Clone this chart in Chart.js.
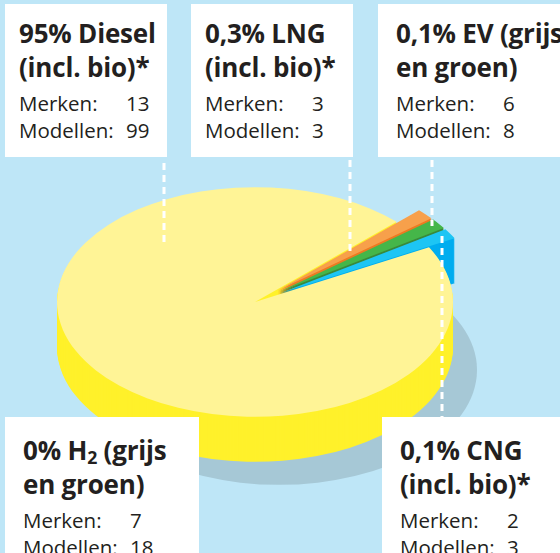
<!DOCTYPE html>
<html><head><meta charset="utf-8">
<script src="https://cdn.jsdelivr.net/npm/chart.js@4/dist/chart.umd.min.js"></script>
<style>
html,body{margin:0;padding:0;background:#bee6f7;}
#wrap{position:relative;width:560px;height:553px;overflow:hidden;background:#bee6f7;font-family:"Open Sans",sans-serif;color:#231f20;}
#c{position:absolute;left:0;top:0;}
.box{position:absolute;background:#fff;box-sizing:border-box;white-space:nowrap;}
.t{font-weight:700;font-size:26px;line-height:34px;letter-spacing:-0.2px;}
.rows{margin-top:6px;font-size:20.5px;line-height:27px;}
.lab{display:inline-block;width:107px;}
sub{font-size:0.68em;vertical-align:-0.2em;line-height:0;}
</style></head><body>
<div id="wrap"><canvas id="c" width="560" height="553"></canvas></div>
<script>
// ---- data ----
const fuels = ['Diesel', 'LNG', 'EV', 'CNG', 'H2'];
const sharePercent = [95, 0.3, 0.1, 0.1, 0];          // percentages printed in the callouts
const drawnShare = [95.6, 1.5, 1.45, 1.45, 0];         // slice sizes as drawn in the graphic
const merken = [13, 3, 6, 2, 7];
const modellen = [99, 3, 8, 3, 18];
const titleA = ['Diesel', 'LNG', 'EV (grijs', 'CNG', 'H<sub>2</sub> (grijs'];
const titleB = ['(incl. bio)*', '(incl. bio)*', 'en groen)', '(incl. bio)*', 'en groen)'];

// ---- styles ----
const topColors = ['#fff496', '#f7a04b', '#45b649', '#1dc5f4', '#ffffff'];
const sideColors = ['#fff12b', '#ee7a22', '#3a8a3b', '#00adef', '#ffffff'];
const explode = [0, 30, 30, 30, 30];

const boxLayout = [
  {left:5, top:4, width:162, height:153, padL:14, padT:12},
  {left:191, top:4, width:162, height:153, padL:14, padT:12},
  {left:378, top:4, width:200, height:153, padL:18, padT:12},
  {left:382, top:417, width:200, height:160, padL:18, padT:16},
  {left:5, top:417, width:194, height:160, padL:18, padT:16}
];
const leaders = [
  {x:164, y1:163, y2:243},
  {x:350, y1:160, y2:253},
  {x:432, y1:160, y2:226},
  {x:442, y1:236, y2:417}
];

// ---- callout boxes (real text) ----
const wrap = document.getElementById('wrap');
fuels.forEach((f, i) => {
  const L = boxLayout[i];
  const d = document.createElement('div');
  d.className = 'box';
  Object.assign(d.style, {left:L.left+'px', top:L.top+'px', width:L.width+'px', height:L.height+'px',
    paddingLeft:L.padL+'px', paddingTop:L.padT+'px'});
  const pct = String(sharePercent[i]).replace('.', ',') + '%';
  d.innerHTML = '<div class="t">' + pct + ' ' + titleA[i] + '<br>' + titleB[i] + '</div>' +
    '<div class="rows"><span class="lab">Merken:</span>' + merken[i] + '<br>' +
    '<span class="lab">Modellen:</span>' + modellen[i] + '</div>';
  wrap.appendChild(d);
});

// ---- 3D pie plugin ----
const pie3d = {
  id: 'pie3d',
  beforeDatasetDraw(chart, args, opts) {
    const ctx = chart.ctx;
    const els = args.meta.data;
    const K = opts.squash, D = opts.depth;
    const cx = els[0].x, cy = els[0].y, R = els[0].outerRadius;
    ctx.save();
    ctx.fillStyle = opts.shadowColor;
    ctx.beginPath();
    ctx.ellipse(cx + opts.shadowDx, cy + D + opts.shadowDy, R, R * K, 0, 0, Math.PI * 2);
    ctx.fill();
    ctx.restore();
    const drawAt = (el, dy, color) => {
      const off = el.options.offset || 0;
      const mid = (el.startAngle + el.endAngle) / 2;
      ctx.save();
      ctx.translate(cx, cy + dy); ctx.scale(1, K); ctx.translate(-cx, -cy);
      ctx.translate(Math.cos(mid) * off, Math.sin(mid) * off);
      const p = Object.create(el);
      p.options = Object.assign({}, el.options, {offset: 0, backgroundColor: color, borderWidth: 0});
      p.draw(ctx);
      ctx.restore();
    };
    for (let d = D; d >= 1; d--) els.forEach((el, i) => drawAt(el, d, opts.sideColors[i]));
    els.forEach((el) => drawAt(el, 0, el.options.backgroundColor));
    return false;
  },
  afterDraw(chart, args, opts) {
    const ctx = chart.ctx;
    ctx.save();
    ctx.strokeStyle = '#ffffff';
    ctx.lineWidth = 3;
    ctx.setLineDash([7, 5]);
    opts.leaders.forEach(l => {
      ctx.beginPath(); ctx.moveTo(l.x, l.y1); ctx.lineTo(l.x, l.y2); ctx.stroke();
    });
    ctx.restore();
  }
};

new Chart(document.getElementById('c'), {
  type: 'pie',
  data: {
    labels: fuels,
    datasets: [{
      data: drawnShare,
      backgroundColor: topColors,
      borderWidth: 0,
      offset: explode,
      rotation: 61.5,
      radius: 198,
      clip: false
    }]
  },
  options: {
    responsive: false,
    animation: false,
    events: [],
    rotation: 61.5,
    radius: 198,
    layout: {padding: {left: 0, right: 50, top: 51, bottom: 0}},
    plugins: {
      legend: {display: false},
      tooltip: {enabled: false},
      pie3d: {squash: 0.58, depth: 45, shadowDx: 24, shadowDy: 23, shadowColor: '#a6c8d6',
              sideColors: sideColors, leaders: leaders}
    }
  },
  plugins: [pie3d]
});
</script>
</body></html>
